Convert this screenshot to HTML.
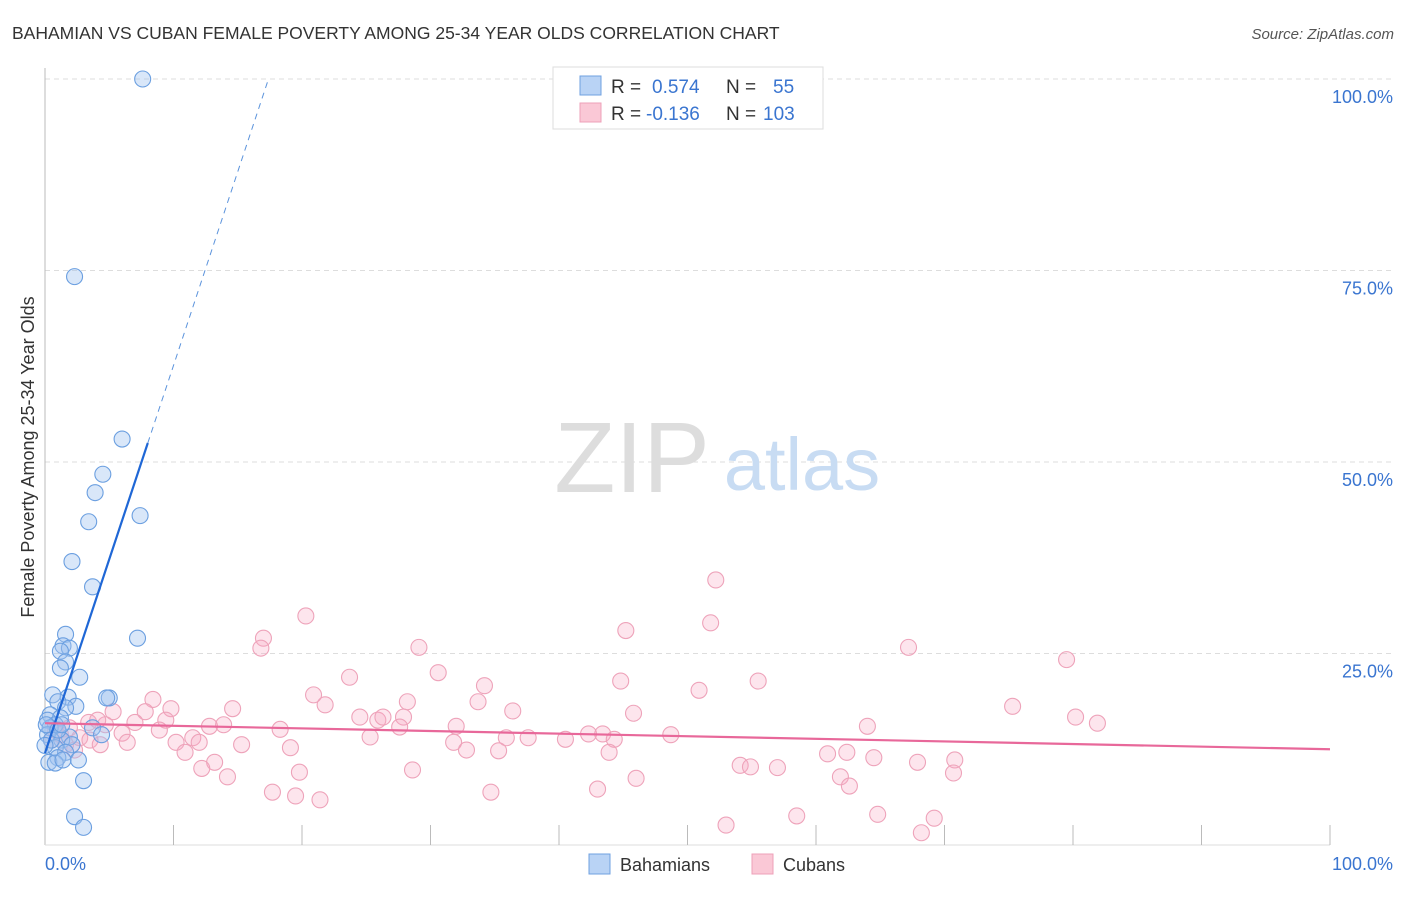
<!DOCTYPE html>
<html><head><meta charset="utf-8">
<style>
body{margin:0;background:#fff;font-family:"Liberation Sans",sans-serif;}
svg text{font-family:"Liberation Sans",sans-serif;}
</style></head>
<body>
<svg width="1406" height="892" viewBox="0 0 1406 892">
<text x="12" y="39" font-size="17.5" fill="#333">BAHAMIAN VS CUBAN FEMALE POVERTY AMONG 25-34 YEAR OLDS CORRELATION CHART</text>
<text x="1394" y="39" font-size="15" fill="#555" font-style="italic" text-anchor="end">Source: ZipAtlas.com</text>
<g id="grid"></g>
<g>
<text x="632" y="492" font-size="100" fill="#ddd" font-family="Liberation Serif" text-anchor="middle">ZIP</text>
<text x="802" y="490" font-size="74" fill="#c8dcf3" text-anchor="middle">atlas</text>
</g>
<line x1="45" y1="68" x2="45" y2="845" stroke="#bbb"/>
<line x1="45" y1="845" x2="1330" y2="845" stroke="#ddd"/>
<g id="ticks"></g>
<text x="34" y="457" font-size="18" fill="#333" text-anchor="middle" transform="rotate(-90 34 457)">Female Poverty Among 25-34 Year Olds</text>
<text x="45" y="870" font-size="18" fill="#3a75d0">0.0%</text>
<text x="1393" y="870" font-size="18" fill="#3a75d0" text-anchor="end">100.0%</text>
<g id="pinkpts"></g>
<g id="bluepts"></g>
<g id="trends"></g>
<g>
<rect x="553" y="67" width="270" height="62" fill="#fff" stroke="#ddd"/>
<rect x="580" y="76" width="21" height="19" fill="#b9d3f5" stroke="#6fa0e0"/>
<rect x="580" y="103" width="21" height="19" fill="#fac8d6" stroke="#eea0b8"/>
<text x="611" y="93" font-size="19" fill="#333">R =</text>
<text x="652" y="93" font-size="19" fill="#3a75d0">0.574</text>
<text x="726" y="93" font-size="19" fill="#333">N =</text>
<text x="773" y="93" font-size="19" fill="#3a75d0">55</text>
<text x="611" y="120" font-size="19" fill="#333">R =</text>
<text x="646" y="120" font-size="19" fill="#3a75d0">-0.136</text>
<text x="726" y="120" font-size="19" fill="#333">N =</text>
<text x="763" y="120" font-size="19" fill="#3a75d0">103</text>
</g>
<g>
<rect x="589" y="854" width="21" height="20" fill="#b9d3f5" stroke="#6fa0e0"/>
<text x="620" y="871" font-size="18" fill="#333">Bahamians</text>
<rect x="752" y="854" width="21" height="20" fill="#fac8d6" stroke="#eea0b8"/>
<text x="783" y="871" font-size="18" fill="#333">Cubans</text>
</g>
</svg>
<script>
const yTicks=[25,50,75,100];
const yTickLabels=["25.0%","50.0%","75.0%","100.0%"];
const xTicks=[10,20,30,40,50,60,70,80,90,100];
const blueX=[7.6,2.3,6,4.5,3.9,7.4,3.4,2.1,3.7,7.2,1.6,1.4,1.9,1.2,1.6,1.2,2.7,0.6,1.8,5,4.8,1,2.4,1.6,0.4,1.2,0.2,0.8,0.4,3.7,0.2,1.9,4.4,1.3,2.1,0.8,1.6,1,0.3,2.6,0.8,1.4,3,2.3,3,0.1,0.5,1,0,1.3];
const blueY=[100,74.2,53,48.4,46,43,42.2,37,33.7,27,27.5,26,25.7,25.3,23.9,23.1,21.9,19.6,19.3,19.2,19.2,18.7,18.1,17.9,17,16.6,16.3,15.7,15.3,15.3,14.4,14.1,14.4,13.7,13.1,12.7,12.1,11.4,10.8,11.1,10.7,11.1,8.4,3.7,2.3,15.7,13.7,15,13,15.7];
const pinkX=[52.2,20.3,17,16.8,29.1,45.2,51.8,67.2,79.5,23.7,30.6,34.2,44.8,55.5,50.9,8.4,20.9,21.8,33.7,28.2,9.8,14.6,7.8,5.3,36.4,45.8,75.3,80.2,81.9,24.5,25.9,26.3,27.9,9.4,7,3.4,4.7,12.8,13.9,18.3,32,64,27.6,8.9,6,42.3,43.4,25.3,35.9,37.6,40.5,44.3,48.7,10.2,11.5,12,15.3,6.4,31.8,19.1,32.8,35.3,43.9,10.9,60.9,62.4,64.5,70.8,67.9,13.2,54.1,54.9,57,12.2,19.8,28.6,70.7,14.2,46,61.9,62.6,43,17.7,19.5,34.7,21.4,58.5,64.8,69.2,53,68.2,0.8,1.2,1.9,2.7,1.6,3.5,4.3,0.5,2.3,4.1];
const pinkY=[34.6,29.9,27,25.7,25.8,28,29,25.8,24.2,21.9,22.5,20.8,21.4,21.4,20.2,19,19.6,18.3,18.7,18.7,17.8,17.8,17.4,17.4,17.5,17.2,18.1,16.7,15.9,16.7,16.3,16.7,16.7,16.3,16,16,15.7,15.5,15.7,15.1,15.5,15.5,15.4,15,14.6,14.5,14.5,14.1,14,14,13.8,13.8,14.4,13.4,14,13.4,13.1,13.4,13.4,12.7,12.4,12.3,12.1,12.1,11.9,12.1,11.4,11.1,10.8,10.8,10.4,10.2,10.1,10,9.5,9.8,9.4,8.9,8.7,8.9,7.7,7.3,6.9,6.4,6.9,5.9,3.8,4,3.5,2.6,1.6,15,14.4,15.3,14,13.1,13.7,13.1,13.7,12.4,16.3];
const blueTrend=[12,5.06]; // intercept, slope
const blueSolidEnd=8, blueDashEnd=17.4;
const pinkTrend=[15.9,-0.034];

const NS="http://www.w3.org/2000/svg";
const X=v=>45+v*12.85, Y=v=>845-v*7.66;
function mk(t,a,p){const e=document.createElementNS(NS,t);for(const k in a)e.setAttribute(k,a[k]);p.appendChild(e);return e;}
const grid=document.getElementById('grid');
yTicks.forEach((t,i)=>{
 const l=mk('line',{x1:45,x2:1393,y1:Y(t),y2:Y(t),stroke:'#ddd','stroke-dasharray':'5,4'},grid);
 
 
 const tx=mk('text',{x:1393,y:Y(t)+24,'font-size':18,fill:'#3a75d0','text-anchor':'end'},grid);
 tx.textContent=yTickLabels[i];
 
 
});
const ticks=document.getElementById('ticks');
xTicks.forEach(t=>{
 const l=mk('line',{x1:X(t),x2:X(t),y1:825,y2:845,stroke:'#bbb'},ticks);
 
 
});
const pg=document.getElementById('pinkpts');
pinkX.forEach((v,i)=>{
 const c=mk('circle',{cx:X(v),cy:Y(pinkY[i]),r:8,fill:'rgba(247,170,194,0.3)',stroke:'#eea3ba','stroke-width':1.1},pg);
 
 
});
const bg=document.getElementById('bluepts');
blueX.forEach((v,i)=>{
 const c=mk('circle',{cx:X(v),cy:Y(blueY[i]),r:8,fill:'rgba(160,196,240,0.4)',stroke:'#6b9fe0','stroke-width':1.1},bg);
 
 
});
const tr=document.getElementById('trends');
const f=(tp,x)=>tp[0]+tp[1]*x;
let l1=mk('line',{x1:X(0),y1:Y(f(blueTrend,0)),x2:X(blueSolidEnd),y2:Y(f(blueTrend,blueSolidEnd)),stroke:'#1f67d6','stroke-width':2.2},tr);


let l2=mk('line',{x1:X(blueSolidEnd),y1:Y(f(blueTrend,blueSolidEnd)),x2:X(blueDashEnd),y2:Y(f(blueTrend,blueDashEnd)),stroke:'#5b93dc','stroke-width':1,'stroke-dasharray':'6,5'},tr);


let l3=mk('line',{x1:X(0),y1:Y(f(pinkTrend,0)),x2:X(100),y2:Y(f(pinkTrend,100)),stroke:'#e8689a','stroke-width':2.2},tr);


</script>
</body></html>
